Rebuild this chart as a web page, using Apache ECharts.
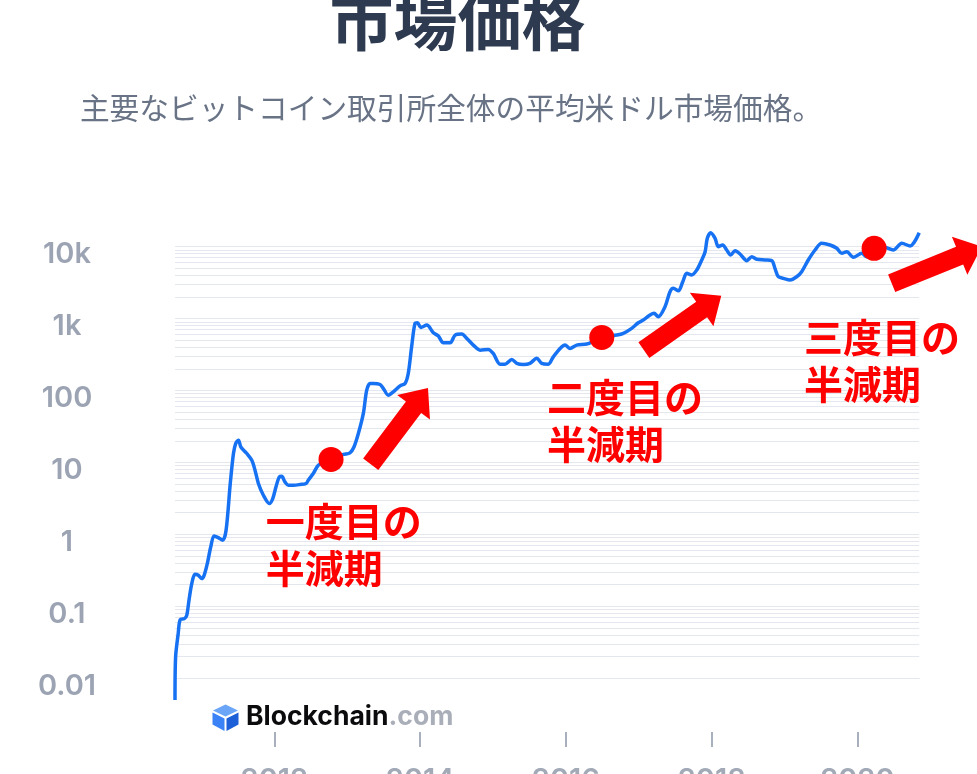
<!DOCTYPE html>
<html>
<head>
<meta charset="utf-8">
<script src="https://cdn.jsdelivr.net/npm/echarts@6/dist/echarts.min.js"></script>
<style>
html,body{margin:0;padding:0;background:#ffffff;}
#c{width:977px;height:774px;}
</style>
</head>
<body>
<div id="c"></div>
<script>
// ---- data ----
const priceDates = [
'2010-08-21','2010-08-24','2010-09-06','2010-09-16','2010-10-07','2010-10-19','2010-10-30','2010-11-13','2010-11-29','2010-12-16',
'2011-01-02','2011-01-14','2011-01-30','2011-02-16','2011-03-05','2011-03-26','2011-04-17','2011-05-04','2011-05-25','2011-06-10',
'2011-06-21','2011-07-05','2011-07-17','2011-08-16','2011-09-10','2011-09-26','2011-10-13','2011-11-07','2011-12-07','2011-12-24',
'2012-01-09','2012-01-26','2012-02-07','2012-02-23','2012-03-11','2012-04-05','2012-05-09','2012-06-08','2012-06-19','2012-07-14',
'2012-08-08','2012-09-11','2012-10-11','2012-11-10','2012-12-12','2013-01-14','2013-02-03','2013-02-25','2013-03-22','2013-04-08',
'2013-04-25','2013-05-11','2013-06-14','2013-06-30','2013-07-25','2013-08-19','2013-09-22','2013-10-17','2013-11-02','2013-11-19',
'2013-12-06','2013-12-18','2014-01-04','2014-02-03','2014-03-08','2014-04-02','2014-04-27','2014-05-31','2014-06-25','2014-07-28',
'2014-08-22','2014-09-24','2014-10-28','2014-12-08','2015-01-02','2015-02-05','2015-03-02','2015-04-05','2015-04-30','2015-06-02',
'2015-07-05','2015-08-08','2015-09-02','2015-10-05','2015-10-30','2015-12-03','2015-12-28','2016-01-22','2016-02-24','2016-04-15',
'2016-05-21','2016-06-29','2016-08-04','2016-09-12','2016-10-15','2016-11-26','2016-12-29','2017-01-23','2017-02-26','2017-03-18',
'2017-04-08','2017-05-12','2017-06-06','2017-06-23','2017-07-18','2017-08-09','2017-08-29','2017-09-23','2017-10-18','2017-11-12',
'2017-11-29','2017-12-10','2017-12-27','2018-01-18','2018-02-03','2018-02-25','2018-03-17','2018-04-06','2018-04-28','2018-05-23',
'2018-06-26','2018-07-21','2018-08-15','2018-09-25','2018-10-29','2018-11-14','2018-12-01','2018-12-26','2019-01-29','2019-03-03',
'2019-03-28','2019-04-30','2019-06-03','2019-07-06','2019-08-17','2019-09-20','2019-10-15','2019-11-09','2019-12-12','2020-01-23',
'2020-02-17','2020-03-25','2020-05-10','2020-06-29','2020-08-11','2020-09-21','2020-11-06'
];
const priceValues = [
0.005,0.0197,0.0417,0.0653,0.0675,0.075,0.121,0.207,0.279,0.27,
0.243,0.27,0.393,0.668,0.95,0.90,0.83,1.14,5.1,13.3,
18.3,20.4,16.4,13.3,10.7,7.8,5.1,3.5,2.68,3.15,
4.56,6.3,6.4,5.36,4.82,4.82,4.93,5.1,5.65,7.0,
9.1,10.1,11.0,11.8,12.9,13.6,16.4,25.2,47.9,101,
125,125,121,107,86,95.7,116,125,172,404,
855,871,752,809,633,569,459,459,588,607,
529,427,363,372,327,232,232,270,238,230,
238,279,238,232,293,384,427,384,427,441,
485,546,569,588,621,728,871,950,1115,1178,
1057,1455,2352,2622,2428,3240,4240,4015,4710,6490,
8470,13000,15560,13000,9940,10490,8940,7620,8740,7870,
6360,7210,6640,6490,6360,4980,3800,3610,3420,3800,
4470,6490,8940,11080,10490,9440,8040,8470,7080,8040,
7210,8000,9940,8940,11080,10160,15560
];
const halvingDates = ['2012-10-11','2016-06-29','2020-03-25'];
const halvingValues = [11.0, 546, 9440];
const halvingLabels = ['一度目の\n半減期','二度目の\n半減期','三度目の\n半減期'];
const labelAnchorDates = ['2011-11-19','2015-09-29','2019-04-09'];
const labelAnchorValues = [1.52, 80.7, 551];
const arrowTailDates = ['2013-04-28','2017-01-26','2020-06-21'];
const arrowTailValues = [9.44, 363, 3080];
const arrowTipDates = ['2014-02-09','2018-02-18','2021-09-16'];
const arrowTipValues = [108, 2070, 9970];
const yearTicks = ['2012-01-01','2014-01-01','2016-01-01','2018-01-01','2020-01-01'];
const xMinDate = '2010-08-21';
const xMaxDate = '2020-11-06';
const yMin = 0.005;
const yMax = 10000;
const titleText = '市場価格';
const subtitleText = '主要なビットコイン取引所全体の平均米ドル市場価格。';

// ---- chart ----
function P(s) { const a = s.split('-'); return Date.UTC(+a[0], +a[1] - 1, +a[2]); }
const chart = echarts.init(document.getElementById('c'));

const gridValues = [];
for (let k = -3; k <= 4; k++) {
  for (let m = 1; m <= 9; m++) {
    const v = +(m * Math.pow(10, k)).toPrecision(4);
    if (v >= yMin - 1e-12 && v <= yMax + 1e-9) gridValues.push(v);
  }
}

const numFont = 'Inter';
const cjkFont = '"Noto Sans CJK JP"';
const tickTs = yearTicks.map(P);

chart.setOption({
  animation: false,
  grid: { left: 175, right: 57.8, top: 246.5, bottom: 74, outerBoundsMode: 'none', containLabel: false },
  xAxis: {
    type: 'value',
    min: P(xMinDate),
    max: P(xMaxDate),
    offset: 32,
    axisLine: { show: false },
    splitLine: { show: false },
    axisTick: {
      show: true, length: 15,
      lineStyle: { color: '#a9b0bd', width: 2 },
      customValues: tickTs
    },
    axisLabel: {
      customValues: tickTs,
      formatter: function (v) { return String(new Date(v).getUTCFullYear()); },
      color: '#a2aab8', fontSize: 29, fontFamily: numFont, fontWeight: 600,
      margin: 34
    }
  },
  yAxis: {
    type: 'log',
    logBase: 10,
    min: yMin,
    max: yMax,
    axisLine: { show: false },
    axisTick: { show: false },
    splitLine: { show: false },
    axisLabel: {
      align: 'center',
      margin: 108,
      verticalAlign: 'top',
      lineHeight: 16,
      color: '#9ca4b4', fontSize: 29, fontFamily: numFont, fontWeight: 600,
      formatter: function (v) {
        const lg = Math.log10(v);
        if (Math.abs(lg - Math.round(lg)) > 1e-6) return '';
        const r = Math.pow(10, Math.round(lg));
        if (r >= 1000) return (r / 1000) + 'k';
        return String(+r.toPrecision(6));
      }
    }
  },
  series: [
    {
      type: 'line',
      data: [],
      silent: true,
      z: 1,
      markLine: {
        z: 1,
        silent: true,
        symbol: ['none', 'none'],
        label: { show: false },
        emphasis: { disabled: true },
        lineStyle: { color: '#e4e7ee', width: 1, type: 'solid' },
        data: gridValues.map(function (v) { return { yAxis: v }; })
      }
    },
    {
      type: 'line',
      data: priceDates.map(function (d, i) { return [P(d), priceValues[i]]; }),
      showSymbol: false,
      smooth: 0.3,
      clip: false,
      z: 3,
      lineStyle: { color: '#1672f3', width: 3.5 },
      emphasis: { disabled: true }
    },
    {
      type: 'scatter',
      data: halvingDates.map(function (d, i) { return [P(d), halvingValues[i]]; }),
      symbolSize: 25,
      clip: false,
      z: 5,
      itemStyle: { color: '#ff0000', opacity: 1 },
      emphasis: { disabled: true }
    }
  ]
});

function px(d, v) { return chart.convertToPixel({ gridIndex: 0 }, [P(d), v]); }

function arrowPoints(T, Q) {
  const dx = Q[0] - T[0], dy = Q[1] - T[1];
  const len = Math.sqrt(dx * dx + dy * dy);
  const ux = dx / len, uy = dy / len;
  const nx = -uy, ny = ux;
  const w = 9.5, h = 20.5, L = 24;
  const bx = Q[0] - ux * L, by = Q[1] - uy * L;
  return [
    [T[0] + nx * w, T[1] + ny * w],
    [bx + nx * w, by + ny * w],
    [bx + nx * h, by + ny * h],
    [Q[0], Q[1]],
    [bx - nx * h, by - ny * h],
    [bx - nx * w, by - ny * w],
    [T[0] - nx * w, T[1] - ny * w]
  ];
}

const graphics = [];
graphics.push({
  type: 'text', silent: true, z: 10,
  style: { text: titleText, x: 457.5, y: 21, align: 'center', verticalAlign: 'middle',
    fill: '#2e3a50', font: 'bold 64px ' + cjkFont }
});
graphics.push({
  type: 'text', silent: true, z: 10,
  style: { text: subtitleText, x: 451, y: 108, align: 'center', verticalAlign: 'middle',
    fill: '#697386', font: 'normal 29.7px ' + cjkFont }
});
graphics.push({ type: 'polygon', silent: true, z: 10,
  shape: { points: [[225.5,704.5],[238,710.5],[225.5,716.5],[213,710.5]] }, style: { fill: '#6aa5f8' } });
graphics.push({ type: 'polygon', silent: true, z: 10,
  shape: { points: [[212.5,712.5],[224.5,718.5],[224.5,731],[212.5,724.5]] }, style: { fill: '#3b82f6' } });
graphics.push({ type: 'polygon', silent: true, z: 10,
  shape: { points: [[226.5,718.5],[238.5,712.5],[238.5,724.5],[226.5,731]] }, style: { fill: '#1d5fd6' } });
graphics.push({
  type: 'text', silent: true, z: 10,
  style: {
    text: '{a|Blockchain}{b|.com}', x: 246, y: 717, align: 'left', verticalAlign: 'middle',
    rich: {
      a: { fontFamily: numFont, fontWeight: 700, fontSize: 26.5, fill: '#0b0b0d' },
      b: { fontFamily: numFont, fontWeight: 700, fontSize: 26.5, fill: '#a9aeb8' }
    }
  }
});
for (let i = 0; i < 3; i++) {
  const T = px(arrowTailDates[i], arrowTailValues[i]);
  const Q = px(arrowTipDates[i], arrowTipValues[i]);
  graphics.push({ type: 'polygon', silent: true, z: 8,
    shape: { points: arrowPoints(T, Q) }, style: { fill: '#ff0000' } });
  const A = px(labelAnchorDates[i], labelAnchorValues[i]);
  graphics.push({
    type: 'text', silent: true, z: 8,
    style: { text: halvingLabels[i], x: A[0], y: A[1] - 23.5, align: 'left', verticalAlign: 'top',
      lineHeight: 47, fill: '#ff0000', font: 'bold 39px ' + cjkFont }
  });
}
chart.setOption({ graphic: graphics });
</script>
</body>
</html>
